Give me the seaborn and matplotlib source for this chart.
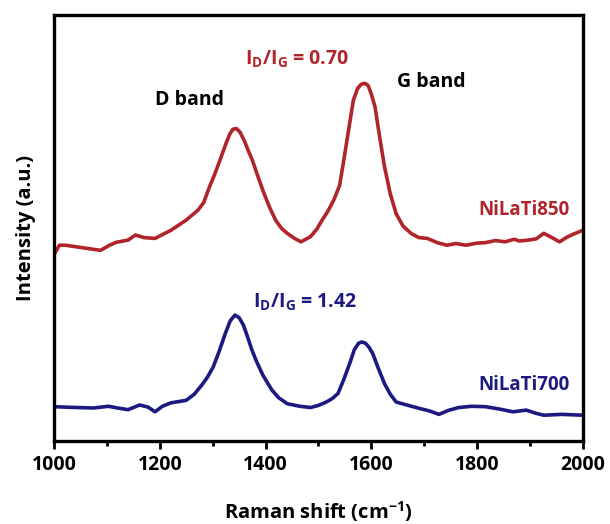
import matplotlib
matplotlib.use("Agg")
import matplotlib.pyplot as plt
import numpy as np
import pandas as pd
import seaborn as sns
from matplotlib.ticker import MultipleLocator

# Raman spectra (arbitrary intensity units, offset for display)
shift_850 = [1000, 1010, 1022, 1044, 1066, 1088, 1105, 1118, 1140, 1154, 1170, 1191, 1205,
             1221, 1250, 1272, 1283, 1294, 1305, 1316, 1325, 1332, 1338, 1345, 1352, 1360,
             1368, 1375, 1386, 1397, 1408, 1419, 1430, 1441, 1455, 1467, 1485, 1497, 1507,
             1518, 1529, 1540, 1548, 1557, 1566, 1574, 1581, 1588, 1594, 1600, 1607, 1615,
             1625, 1636, 1647, 1660, 1676, 1690, 1706, 1725, 1743, 1760, 1779, 1800, 1815,
             1835, 1853, 1870, 1880, 1897, 1912, 1926, 1940, 1956, 1970, 1980, 2000]
int_850 = [43.7, 46.0, 46.0, 45.6, 45.2, 44.8, 46.0, 46.7, 47.2, 48.4, 47.8, 47.6, 48.5,
           49.5, 51.9, 54.2, 56.0, 59.7, 63.0, 66.7, 69.8, 72.0, 73.2, 73.4, 72.5, 70.5,
           68.0, 66.0, 62.0, 58.2, 54.8, 51.9, 50.0, 48.8, 47.6, 46.8, 48.0, 49.8, 51.9,
           54.0, 56.6, 60.0, 66.0, 73.0, 80.0, 82.8, 83.8, 84.0, 83.5, 81.5, 78.5, 72.0,
           64.4, 58.0, 53.4, 50.5, 48.7, 47.8, 47.6, 46.6, 46.0, 46.4, 46.0, 46.5, 46.6,
           47.1, 46.8, 47.4, 47.0, 47.2, 47.5, 48.8, 47.9, 46.8, 47.9, 48.5, 49.5]

shift_700 = [1000, 1022, 1044, 1075, 1103, 1120, 1140, 1162, 1178, 1191, 1205, 1221, 1250,
             1265, 1279, 1290, 1301, 1312, 1324, 1333, 1342, 1350, 1358, 1366, 1374, 1382,
             1395, 1412, 1425, 1441, 1465, 1485, 1500, 1515, 1526, 1537, 1548, 1559, 1568,
             1576, 1582, 1589, 1596, 1603, 1612, 1625, 1636, 1647, 1670, 1691, 1710, 1728,
             1745, 1765, 1790, 1816, 1840, 1868, 1893, 1910, 1926, 1960, 2000]
int_700 = [8.1, 8.0, 7.9, 7.8, 8.2, 7.8, 7.4, 8.5, 8.0, 6.9, 8.2, 9.0, 9.6,
           11.0, 13.1, 15.0, 17.4, 21.0, 25.3, 28.2, 29.6, 29.0, 27.3, 24.5, 21.5, 19.0,
           15.5, 12.0, 10.2, 8.8, 8.2, 7.9, 8.4, 9.2, 10.0, 11.2, 14.5, 18.2, 21.5,
           23.0, 23.3, 23.0, 22.0, 20.5, 17.5, 13.5, 11.0, 9.2, 8.4, 7.7, 7.1, 6.3,
           7.2, 7.9, 8.2, 8.1, 7.6, 6.9, 7.3, 6.6, 6.1, 6.3, 6.1]

sample_names = ["NiLaTi850", "NiLaTi700"]
ratio_labels = [r"$\mathbf{I_D/I_G}$ = 0.70", r"$\mathbf{I_D/I_G}$ = 1.42"]
band_labels = ["D band", "G band"]
x_ticks = [1000, 1200, 1400, 1600, 1800, 2000]

red = "#B0242A"
navy = "#1C1A80"

sns.set_style("ticks")
plt.rcParams["font.family"] = ["Open Sans", "DejaVu Sans"]
plt.rcParams["font.weight"] = "bold"
plt.rcParams["text.color"] = "black"
plt.rcParams["axes.labelcolor"] = "black"
plt.rcParams["xtick.color"] = "black"
plt.rcParams["xtick.labelcolor"] = "black"
plt.rcParams["mathtext.fontset"] = "custom"
plt.rcParams["mathtext.rm"] = "Open Sans:bold"
plt.rcParams["mathtext.bf"] = "Open Sans:bold"
plt.rcParams["mathtext.it"] = "Open Sans:bold"

fig = plt.figure(figsize=(6.10, 5.24), dpi=100)
ax = fig.add_axes([0.0885, 0.158, 0.867, 0.813])

df850 = pd.DataFrame({"shift": shift_850, "intensity": int_850})
df700 = pd.DataFrame({"shift": shift_700, "intensity": int_700})
sns.lineplot(data=df850, x="shift", y="intensity", color=red, lw=2.6, ax=ax)
sns.lineplot(data=df700, x="shift", y="intensity", color=navy, lw=2.6, ax=ax)

ax.set_xlim(1000, 2000)
ax.set_ylim(0, 100)
ax.set_xticks(x_ticks)
ax.xaxis.set_minor_locator(MultipleLocator(100))
ax.set_yticks([])
ax.tick_params(axis="x", which="major", direction="out", length=6, width=2,
               labelsize=14, pad=4, colors="black")
ax.tick_params(axis="x", which="minor", direction="out", length=3.5, width=2,
               colors="black")
for lab in ax.get_xticklabels():
    lab.set_fontweight("bold")
for sp in ax.spines.values():
    sp.set_linewidth(2.4)
    sp.set_color("black")

ax.set_xlabel(r"Raman shift (cm$^{\mathbf{-1}}$)", fontsize=14.5, fontweight="bold",
              labelpad=17)
ax.set_ylabel("Intensity (a.u.)", fontsize=14.5, fontweight="bold", labelpad=13)

ax.text(1257, 80, band_labels[0], fontsize=14, fontweight="bold", ha="center", va="center")
ax.text(1713, 84.3, band_labels[1], fontsize=14, fontweight="bold", ha="center", va="center")
ax.text(1460, 89.6, ratio_labels[0], fontsize=14, fontweight="bold", color=red,
        ha="center", va="center")
ax.text(1474, 32.7, ratio_labels[1], fontsize=14, fontweight="bold", color=navy,
        ha="center", va="center")
ax.text(1975, 54.2, sample_names[0], fontsize=13.5, fontweight="bold", color=red,
        ha="right", va="center")
ax.text(1975, 13.1, sample_names[1], fontsize=13.5, fontweight="bold", color=navy,
        ha="right", va="center")

fig.savefig("out.png", dpi=100)
